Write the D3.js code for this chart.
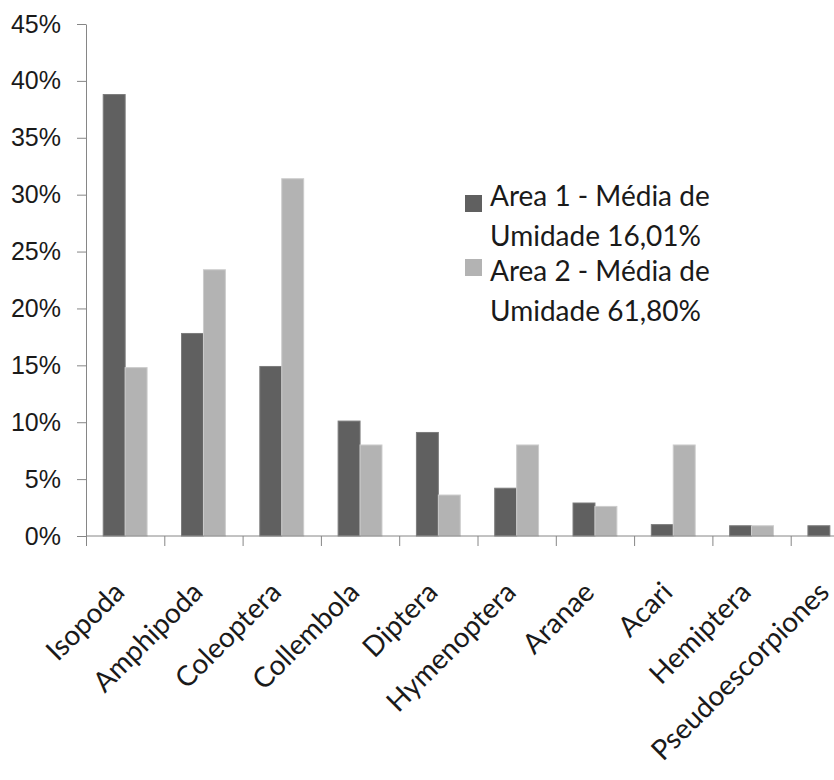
<!DOCTYPE html>
<html>
<head>
<meta charset="utf-8">
<script src="https://cdn.jsdelivr.net/npm/d3@7"></script>
<style>
  body { margin: 0; background: #fff; }
  svg { display: block; font-family: Lato, "Open Sans", sans-serif; }
  .axis path, .axis line { stroke: #868686; }
  .axis text { fill: #1a1a1a; }
</style>
</head>
<body>
<div id="chart"></div>
<script>
// categories and values (fractions)
const categories = ['Isopoda', 'Amphipoda', 'Coleoptera', 'Collembola', 'Diptera',
  'Hymenoptera', 'Aranae', 'Acari', 'Hemiptera', 'Pseudoescorpiones'];
const area1 = [0.388, 0.178, 0.149, 0.101, 0.091, 0.042, 0.029, 0.010, 0.009, 0.009];
const area2 = [0.148, 0.234, 0.314, 0.080, 0.036, 0.080, 0.026, 0.080, 0.009, 0];
const seriesNames = ['Area 1 - Média de Umidade 16,01%', 'Area 2 - Média de Umidade 61,80%'];
const legendLines = [['Area 1 - Média de', 'Umidade 16,01%'], ['Area 2 - Média de', 'Umidade 61,80%']];
const yTicks = [0, 0.05, 0.10, 0.15, 0.20, 0.25, 0.30, 0.35, 0.40, 0.45];

const width = 834;
const height = 780;
const colors = ['#606060', '#b3b3b3'];
const strokes = ['#7c7c7c', '#cccccc'];

const svg = d3.select('#chart').append('svg')
    .attr('width', width)
    .attr('height', height);

const x = d3.scaleBand()
    .domain(categories)
    .range([86, 869])
    .padding(0);

const xs = d3.scaleBand()
    .domain([0, 1])
    .range([x.bandwidth() * 0.22, x.bandwidth() * 0.78]);

const y = d3.scaleLinear()
    .domain([0, 0.45])
    .range([536, 24]);

const pct = d3.format('.0%');

// bars
const rows = categories.map((c, i) => ({cat: c, vals: [area1[i], area2[i]]}));

const group = svg.selectAll('.cat')
    .data(rows)
  .enter().append('g')
    .attr('class', 'cat')
    .attr('transform', d => `translate(${x(d.cat)},0)`);

group.selectAll('rect')
    .data(d => d.vals.map((v, s) => ({v, s})).filter(d => d.v > 0))
  .enter().append('rect')
    .attr('x', d => xs(d.s))
    .attr('y', d => y(d.v))
    .attr('width', xs.bandwidth())
    .attr('height', d => y(0) - y(d.v))
    .attr('fill', d => colors[d.s])
    .attr('stroke', d => strokes[d.s])
    .attr('stroke-width', 1);

// y axis
const yAxis = svg.append('g')
    .attr('class', 'axis')
    .attr('transform', 'translate(86,0)')
    .call(d3.axisLeft(y).tickValues(yTicks).tickFormat(pct).tickSize(9).tickSizeOuter(0).tickPadding(16));
yAxis.selectAll('text').style('font-size', '25px');

// x axis: ticks at band boundaries
const xAxis = svg.append('g')
    .attr('class', 'axis')
    .attr('transform', `translate(0,${y(0)})`);
xAxis.append('line')
    .attr('x1', 86).attr('x2', 869)
    .attr('stroke', '#868686');
xAxis.selectAll('.tick')
    .data(categories)
  .enter().append('line')
    .attr('x1', d => x(d) + 0.5).attr('x2', d => x(d) + 0.5)
    .attr('y1', 0).attr('y2', 10)
    .attr('stroke', '#868686');

xAxis.selectAll('.lbl')
    .data(categories)
  .enter().append('text')
    .attr('class', 'lbl')
    .attr('transform', d => `translate(${x(d) + x.bandwidth() / 2 + 1},58) rotate(-45)`)
    .attr('text-anchor', 'end')
    .style('font-size', '28px')
    .style('fill', '#1a1a1a')
    .text(d => d);

// legend
const legend = svg.append('g').attr('class', 'legend');
const legendBase = [206, 281];
const squareTop = [195, 259];
legendLines.forEach((lines, s) => {
  legend.append('rect')
      .attr('x', 465)
      .attr('y', squareTop[s])
      .attr('width', 17)
      .attr('height', 17)
      .attr('fill', colors[s])
      .append('title').text(seriesNames[s]);
  lines.forEach((t, k) => {
    legend.append('text')
        .attr('x', 490)
        .attr('y', legendBase[s] + k * 40)
        .style('font-size', '28px')
        .style('fill', '#1a1a1a')
        .text(t);
  });
});
</script>
</body>
</html>
